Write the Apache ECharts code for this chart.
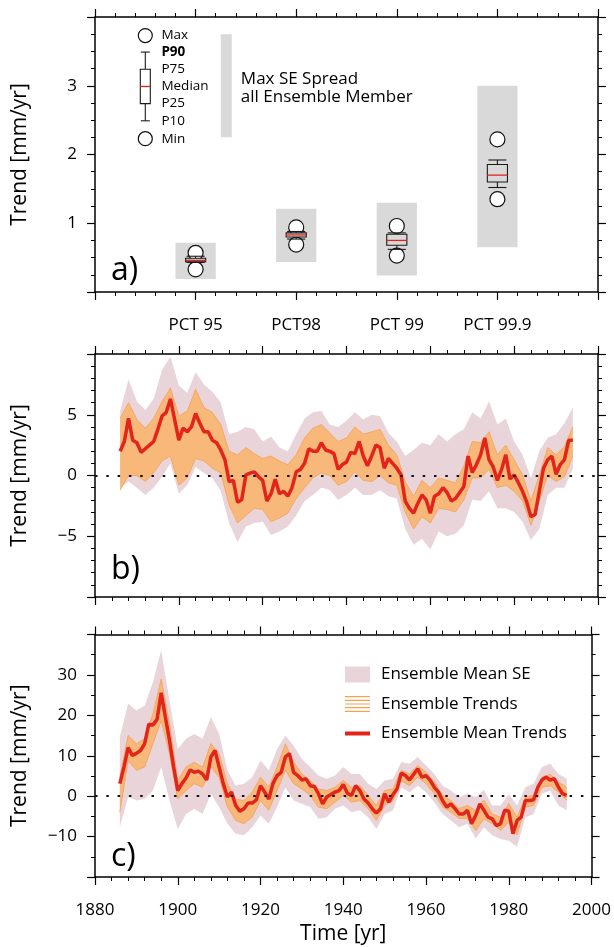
<!DOCTYPE html>
<html>
<head>
<meta charset="utf-8">
<title>Trend ensemble</title>
<script src="https://cdn.jsdelivr.net/npm/echarts@6/dist/echarts.min.js"></script>
<style>
  html, body { margin: 0; padding: 0; background: #fff; }
  #chart { width: 614px; height: 947px; }
</style>
</head>
<body>
<div id="chart"></div>
<script>
const FONT = '"Open Sans", "DejaVu Sans", sans-serif';

// ---- panel a: percentile summaries of trends ----
const pctNames = ['PCT 95', 'PCT98', 'PCT 99', 'PCT 99.9'];
const seSpreadLow  = [0.19, 0.435, 0.24, 0.65];
const seSpreadHigh = [0.715, 1.21, 1.30, 3.00];
const trendMin = [0.33, 0.69, 0.53, 1.35];
const trendP10 = [0.43, 0.77, 0.62, 1.52];
const trendP25 = [0.44, 0.80, 0.68, 1.60];
const trendMed = [0.46, 0.83, 0.75, 1.70];
const trendP75 = [0.49, 0.86, 0.84, 1.855];
const trendP90 = [0.52, 0.88, 0.86, 1.92];
const trendMax = [0.57, 0.94, 0.96, 2.22];
// key drawn inside panel a
const keyLabels = ['Min', 'P10', 'P25', 'Median', 'P75', 'P90', 'Max'];
const keyValues = [2.23, 2.49, 2.74, 2.99, 3.24, 3.49, 3.73];
const keySpread = [2.25, 3.75];

// ---- panels b / c: yearly ensemble mean, 2-yearly envelopes ----
const years = Array.from({length: 109}, (_, i) => 1886 + i);
const bandYears = Array.from({length: 55}, (_, i) => 1886 + 2 * i);

const meanB = [2.0, 2.8, 4.7, 2.9, 2.7, 1.9, 2.2, 2.5, 2.8, 3.8, 4.9, 5.2, 6.3, 4.6, 2.9, 3.9, 3.6, 4.0, 5.1, 4.3,
  3.6, 3.6, 2.9, 2.7, 2.1, 1.3, -0.5, -0.4, -2.2, -2.0, 0.05, 0.2, 0.3, -0.1, -0.4, -2.1, -1.5, -0.3, -1.5, -1.3,
  -1.7, -1.0, 0.3, 0.5, 1.0, 2.2, 2.0, 2.0, 2.7, 2.1, 2.0, 1.8, 0.5, 0.9, 1.1, 1.9, 1.8, 2.8, 1.6, 0.8,
  1.6, 2.5, 2.3, 0.6, 1.4, 1.0, 0.6, 0.05, -2.1, -2.7, -3.1, -2.3, -1.6, -2.0, -3.1, -1.7, -1.5, -1.0, -1.4, -2.1,
  -1.9, -1.4, -0.9, 1.6, 0.25, 0.9, 1.7, 3.1, 1.3, 0.7, -0.4, 0.5, 1.7, -0.3, 0.05, -0.6, -1.3, -2.2, -3.4, -3.2,
  -1.3, 0.6, 1.3, 1.6, 0.1, 0.9, 1.3, 2.9, 2.9];
const seHiB = [5.3, 7.9, 6.1, 5.4, 6.3, 8.7, 9.8, 7.4, 6.8, 8.5, 7.5, 6.9, 6.0, 3.4, 3.6, 4.0, 3.8, 2.8, 3.2, 2.3,
  2.0, 3.4, 4.7, 5.2, 5.3, 4.2, 4.0, 4.5, 5.2, 4.6, 5.0, 4.9, 3.5, 2.8, 1.6, 2.1, 2.7, 2.5, 3.4, 2.8,
  3.4, 3.8, 5.2, 4.7, 6.1, 4.2, 4.7, 2.8, 1.7, -0.2, 2.0, 3.1, 3.4, 4.3, 5.6];
const seLoB = [-1.0, -0.5, -1.0, -1.6, -1.0, -0.1, 1.0, -1.5, -0.8, 0.7, 0.2, -0.2, -1.3, -3.9, -5.5, -4.2, -3.9, -3.8, -4.9, -4.6,
  -4.2, -3.3, -2.1, -1.6, -1.0, -1.2, -2.0, -1.6, -1.0, -1.6, -1.6, -1.2, -1.7, -1.9, -4.4, -5.7, -5.2, -6.1, -4.6, -5.0,
  -4.8, -4.1, -2.0, -2.1, -1.3, -2.7, -2.7, -3.0, -3.8, -5.3, -4.4, -1.6, -1.0, -1.0, 0.6];
const ensHiB = [4.7, 6.0, 4.6, 3.9, 4.7, 6.1, 7.2, 4.9, 5.3, 7.1, 5.6, 5.2, 4.2, 2.0, 1.7, 2.3, 1.8, 1.4, 1.6, 1.2,
  0.9, 1.7, 3.1, 3.9, 4.2, 3.5, 2.8, 3.1, 4.0, 3.4, 3.6, 3.8, 2.5, 1.7, -0.5, -1.7, -0.4, -1.0, -0.2, -0.4,
  -0.6, 0.8, 2.8, 2.7, 3.6, 1.7, 2.5, 1.3, 0.05, -2.1, 0.05, 2.3, 1.7, 2.4, 4.0];
const ensLoB = [-1.2, 0, 0, -0.5, 0.2, 1.2, 1.6, -0.8, -0.2, 1.4, 1.2, 0.6, 0.2, -2.4, -3.9, -3.3, -2.7, -2.8, -3.8, -3.5,
  -3.1, -1.9, -1.0, -0.2, 0.2, 0, -0.8, -0.5, 0.3, -0.4, -0.5, 0, -0.6, -0.8, -3.0, -4.4, -3.4, -3.9, -2.7, -2.8,
  -3.0, -2.0, -0.2, -0.2, 0.5, -1.0, -0.8, -1.3, -2.1, -4.1, -2.1, 0, -0.5, -0.1, 1.6];

const meanC = [3.1, 7.2, 12.0, 10.1, 10.6, 11.3, 13.0, 17.8, 17.6, 19.0, 25.6, 19.6, 13.8, 7.2, 1.4, 3.1, 4.5, 6.5, 5.9, 6.2,
  5.5, 4.0, 9.7, 11.3, 7.2, 3.1, -0.2, 1.0, -2.3, -3.7, -3.1, -1.7, -1.7, -0.9, 2.6, 1.0, -0.7, 3.1, 5.1, 5.9,
  9.7, 10.5, 5.9, 5.1, 4.0, 4.3, 2.6, 2.4, 0.6, -1.9, -0.2, 0.4, 1.0, 1.4, 2.9, 0.7, 0.2, 2.6, 1.4, -0.7,
  -1.7, -3.1, -4.2, -3.1, 0.6, -1.5, 0.4, 1.8, 5.7, 5.1, 4.0, 5.4, 6.8, 4.7, 5.1, 3.9, 2.2, 1.0, -1.1, -2.7,
  -1.9, -3.1, -4.4, -4.4, -3.5, -6.8, -4.8, -1.9, -3.5, -5.2, -5.6, -7.3, -6.8, -3.5, -3.7, -9.3, -6.0, -5.2, -1.1, -1.1,
  -0.9, 2.2, 4.0, 4.7, 4.0, 4.3, 2.2, 0.6, 0.2];
const seHiC = [14.6, 22.9, 21.2, 22.4, 28.2, 36.1, 23.7, 11.7, 14.2, 15.4, 14.2, 19.6, 15.4, 6.4, 2.6, 3.1, 4.7, 8.8, 6.4, 11.7,
  15.0, 12.5, 9.2, 7.2, 5.1, 4.3, 5.1, 7.2, 5.5, 5.5, 3.1, 1.8, 3.9, 4.3, 8.4, 8.0, 9.7, 7.6, 5.5, 2.6,
  1.4, -0.2, 0.6, -0.2, 1.5, -2.3, -2.3, 0.5, -2.3, 2.2, 3.1, 7.2, 8.0, 5.5, 4.3];
const seLoC = [-7.7, -0.2, -1.1, -0.7, 1.4, 7.2, -1.1, -8.1, -4.4, -3.1, -4.4, 0.6, -2.7, -6.8, -9.3, -9.7, -7.7, -4.8, -6.8, -2.7,
  2.2, -1.1, -1.9, -2.7, -5.6, -5.2, -3.1, -2.3, -4.0, -3.5, -5.2, -8.1, -4.4, -3.5, 2.2, 1.0, 2.6, 1.0, -1.5, -4.4,
  -6.0, -7.7, -6.8, -10.5, -7.7, -9.7, -10.6, -11.0, -12.5, -5.2, -4.4, 0.6, 1.4, -2.3, -3.5];
const ensHiC = [4.7, 15.0, 13.0, 14.2, 20.4, 29.0, 17.9, 3.9, 7.2, 8.4, 7.2, 13.0, 10.5, 3.1, -0.7, -1.1, 1.0, 4.7, 2.2, 7.2,
  13.0, 8.5, 5.5, 3.9, 1.8, 1.4, 2.2, 3.9, 2.2, 2.6, 0.2, -2.3, 1.4, 1.8, 6.4, 5.5, 7.6, 5.9, 3.5, 0.2,
  -1.1, -3.1, -2.3, -3.5, -1.0, -4.4, -5.2, -1.8, -5.2, -0.2, 0.2, 4.7, 5.4, 3.5, 2.2];
const ensLoC = [-4.0, 8.8, 6.4, 7.2, 13.0, 18.7, 10.5, -0.7, 1.4, 3.1, 2.2, 7.2, 4.7, -2.7, -6.0, -6.8, -5.2, -1.1, -3.5, 1.4,
  6.4, 3.1, 1.8, 0.2, -2.7, -3.1, -1.5, 0.2, -1.5, -1.1, -3.1, -6.0, -2.3, -1.1, 3.9, 2.6, 4.7, 3.1, 0.6, -2.7,
  -4.0, -5.5, -5.5, -8.5, -5.6, -6.8, -8.5, -6.5, -9.5, -2.7, -2.3, 2.2, 2.6, 1.0, -1.1];

const pink = '#e9d5d9';
const orangeFill = '#f8b879';
const orangeEdge = '#f4a156';
const red = '#e2241b';

const pairs = (xs, ys) => xs.map((x, i) => [x, ys[i]]);
const triples = (xs, lo, hi) => xs.map((x, i) => [x, lo[i], hi[i]]);

// one box glyph: circles for min/max, whiskers P10-P90, box P25-P75, red median
function boxGlyph(api, x, vals, half, r, fill) {
  const cx = api.coord([x, 0])[0];
  const y = vals.map(v => api.coord([x, v])[1]);
  const ink = {stroke: '#1a1a1a', lineWidth: 1.1, fill: 'none'};
  const seg = (x1, y1, x2, y2) => ({type: 'line', shape: {x1, y1, x2, y2}, style: ink});
  const cap = half * 0.9;
  return [
    {type: 'circle', shape: {cx, cy: y[6], r}, style: {fill: '#fff', stroke: '#111', lineWidth: 1.2}},
    {type: 'circle', shape: {cx, cy: y[0], r}, style: {fill: '#fff', stroke: '#111', lineWidth: 1.2}},
    seg(cx, y[1], cx, y[2]),
    seg(cx, y[4], cx, y[5]),
    seg(cx - cap, y[1], cx + cap, y[1]),
    seg(cx - cap, y[5], cx + cap, y[5]),
    {type: 'rect', shape: {x: cx - half, y: y[4], width: 2 * half, height: y[2] - y[4]},
      style: {fill, stroke: '#1a1a1a', lineWidth: 1.1}},
    {type: 'line', shape: {x1: cx - half, y1: y[3], x2: cx + half, y2: y[3]}, style: {stroke: red, lineWidth: 1.3}}
  ];
}

function renderPct(params, api) {
  const x = api.value(0);
  const lo = api.coord([x, api.value(1)]);
  const hi = api.coord([x, api.value(2)]);
  const w = api.size([0.2, 0])[0];
  const vals = [3, 4, 5, 6, 7, 8, 9].map(d => api.value(d));
  return {
    type: 'group',
    children: [{type: 'rect', shape: {x: lo[0] - w, y: hi[1], width: 2 * w, height: lo[1] - hi[1]}, style: {fill: '#d9d9d9'}}]
      .concat(boxGlyph(api, x, vals, api.size([0.1, 0])[0], 7.5, '#d9d9d9'))
  };
}

function renderKey(params, api) {
  const x = api.value(0);
  const vals = keyLabels.map((_, i) => api.value(i + 1));
  const children = boxGlyph(api, x, vals, 5, 7, '#fff');
  keyLabels.forEach((t, i) => {
    const p = api.coord([0.66, vals[i]]);
    children.push({type: 'text', x: p[0], y: p[1], style: {
      text: t, fill: '#000', font: (t === 'P90' ? 'bold ' : '') + '13.5px ' + FONT, align: 'left', verticalAlign: 'middle'}});
  });
  const top = api.coord([1.305, keySpread[1]]);
  const bot = api.coord([1.305, keySpread[0]]);
  children.push({type: 'rect', shape: {x: top[0] - 5.5, y: top[1], width: 11, height: bot[1] - top[1]}, style: {fill: '#d9d9d9'}});
  const tp = api.coord([1.45, 2.97]);
  children.push({type: 'text', x: tp[0], y: tp[1], style: {
    text: 'Max SE Spread\nall Ensemble Member', fill: '#000', font: '17px ' + FONT, lineHeight: 18,
    align: 'left', verticalAlign: 'middle'}});
  return {type: 'group', children};
}

// whole envelope drawn once as a polygon through the axis scales
function bandRenderer(fill, edge) {
  return function (params, api) {
    if (params.dataIndex !== 0) return null;
    const upper = [], lower = [];
    for (let i = 0; i < params.dataInsideLength; i++) {
      const x = api.value(0, i);
      lower.push(api.coord([x, api.value(1, i)]));
      upper.push(api.coord([x, api.value(2, i)]));
    }
    const children = [{type: 'polygon', shape: {points: upper.concat(lower.slice().reverse())}, style: {fill}}];
    if (edge) {
      children.push({type: 'polyline', shape: {points: upper}, style: {stroke: edge, lineWidth: 0.8, fill: 'none'}});
      children.push({type: 'polyline', shape: {points: lower}, style: {stroke: edge, lineWidth: 0.8, fill: 'none'}});
    }
    return {type: 'group', children};
  };
}

function axis(extra) {
  return Object.assign({
    type: 'value',
    axisLine: {show: true, onZero: false, lineStyle: {color: '#000', width: 1.5}},
    axisTick: {show: true, length: 8, lineStyle: {color: '#000', width: 1.2}},
    minorTick: {show: true, length: 4, lineStyle: {color: '#000', width: 1}},
    splitLine: {show: false},
    axisLabel: {show: false}
  }, extra);
}
const tickText = {color: '#000', fontFamily: FONT, fontSize: 17};
const minus = v => String(v).replace('-', '\u2212');
const nameText = {color: '#000', fontFamily: FONT, fontSize: 21};

const timeAxis = {min: 1880, max: 2000, interval: 20, minorTick: {show: true, splitNumber: 5, length: 4, lineStyle: {color: '#000', width: 1}}};

const chart = echarts.init(document.getElementById('chart'));
chart.setOption({
  animation: false,
  backgroundColor: '#fff',
  grid: [
    {left: 95, right: 16, top: 17, height: 275},
    {left: 95, right: 16, top: 354, height: 243},
    {left: 95, right: 16, top: 634.5, height: 242.5}
  ],
  xAxis: [
    axis({gridIndex: 0, position: 'bottom', min: 0, max: 5, interval: 1,
      minorTick: {show: true, splitNumber: 5, length: 4, lineStyle: {color: '#000', width: 1}},
      axisLabel: {show: true, margin: 25, ...tickText, formatter: v => pctNames[v - 1] || ''}}),
    axis({gridIndex: 0, position: 'top', min: 0, max: 5, interval: 1,
      minorTick: {show: true, splitNumber: 5, length: 4, lineStyle: {color: '#000', width: 1}}}),
    axis(Object.assign({gridIndex: 1, position: 'bottom'}, timeAxis)),
    axis(Object.assign({gridIndex: 1, position: 'top'}, timeAxis)),
    axis(Object.assign({gridIndex: 2, position: 'bottom', name: 'Time [yr]', nameLocation: 'middle', nameGap: 47,
      nameTextStyle: nameText, axisLabel: {show: true, margin: 25, ...tickText, formatter: v => String(v)}}, timeAxis)),
    axis(Object.assign({gridIndex: 2, position: 'top'}, timeAxis))
  ],
  yAxis: [
    axis({gridIndex: 0, position: 'left', min: 0, max: 4, interval: 1,
      minorTick: {show: true, splitNumber: 4, length: 4, lineStyle: {color: '#000', width: 1}},
      name: 'Trend [mm/yr]', nameLocation: 'middle', nameGap: 64, nameTextStyle: nameText,
      axisLabel: {show: true, margin: 18, showMinLabel: false, showMaxLabel: false, ...tickText}}),
    axis({gridIndex: 0, position: 'right', min: 0, max: 4, interval: 1,
      minorTick: {show: true, splitNumber: 4, length: 4, lineStyle: {color: '#000', width: 1}}}),
    axis({gridIndex: 1, position: 'left', min: -10, max: 10, interval: 5,
      minorTick: {show: true, splitNumber: 5, length: 4, lineStyle: {color: '#000', width: 1}},
      name: 'Trend [mm/yr]', nameLocation: 'middle', nameGap: 64, nameTextStyle: nameText,
      axisLabel: {show: true, margin: 18, showMinLabel: false, showMaxLabel: false, formatter: minus, ...tickText}}),
    axis({gridIndex: 1, position: 'right', min: -10, max: 10, interval: 5,
      minorTick: {show: true, splitNumber: 5, length: 4, lineStyle: {color: '#000', width: 1}}}),
    axis({gridIndex: 2, position: 'left', min: -20, max: 40, interval: 10,
      minorTick: {show: true, splitNumber: 2, length: 4, lineStyle: {color: '#000', width: 1}},
      name: 'Trend [mm/yr]', nameLocation: 'middle', nameGap: 64, nameTextStyle: nameText,
      axisLabel: {show: true, margin: 18, showMinLabel: false, showMaxLabel: false, formatter: minus, ...tickText}}),
    axis({gridIndex: 2, position: 'right', min: -20, max: 40, interval: 10,
      minorTick: {show: true, splitNumber: 2, length: 4, lineStyle: {color: '#000', width: 1}}})
  ],
  legend: {
    orient: 'vertical', left: 345, top: 666, padding: 0,
    itemWidth: 25, itemHeight: 16, itemGap: 12.5, selectedMode: false,
    textStyle: {color: '#000', fontFamily: FONT, fontSize: 17, padding: [0, 0, 0, 6]},
    data: [
      {name: 'Ensemble Mean SE', icon: 'rect', itemStyle: {color: pink}},
      {name: 'Ensemble Trends', icon: 'path://M0,0H25V1.2H0Z M0,3.7H25V4.9H0Z M0,7.4H25V8.6H0Z M0,11.1H25V12.3H0Z M0,14.8H25V16H0Z',
        itemStyle: {color: orangeEdge}},
      {name: 'Ensemble Mean Trends', icon: 'path://M0,0H25V4H0Z', itemStyle: {color: red}}
    ]
  },
  graphic: [
    {type: 'text', x: 111, y: 271, style: {text: 'a)', font: '32px ' + FONT, fill: '#000', verticalAlign: 'middle'}},
    {type: 'text', x: 111, y: 570, style: {text: 'b)', font: '32px ' + FONT, fill: '#000', verticalAlign: 'middle'}},
    {type: 'text', x: 111, y: 857, style: {text: 'c)', font: '32px ' + FONT, fill: '#000', verticalAlign: 'middle'}}
  ],
  series: [
    {type: 'custom', name: 'pct', xAxisIndex: 0, yAxisIndex: 0, silent: true,
      data: pctNames.map((n, i) => [i + 1, seSpreadLow[i], seSpreadHigh[i], trendMin[i], trendP10[i], trendP25[i],
        trendMed[i], trendP75[i], trendP90[i], trendMax[i]]),
      encode: {x: 0, y: [1, 2]}, renderItem: renderPct},
    {type: 'custom', name: 'key', xAxisIndex: 0, yAxisIndex: 0, silent: true,
      data: [[0.5].concat(keyValues)], encode: {x: 0, y: [1, 7]}, renderItem: renderKey},

    {type: 'custom', name: 'SE b', xAxisIndex: 2, yAxisIndex: 2, silent: true, itemStyle: {color: pink},
      data: triples(bandYears, seLoB, seHiB), encode: {x: 0, y: [1, 2]}, renderItem: bandRenderer(pink)},
    {type: 'custom', name: 'Trends b', xAxisIndex: 2, yAxisIndex: 2, silent: true, itemStyle: {color: orangeFill},
      data: triples(bandYears, ensLoB, ensHiB), encode: {x: 0, y: [1, 2]}, renderItem: bandRenderer(orangeFill, orangeEdge)},
    {type: 'line', name: 'Mean b', xAxisIndex: 2, yAxisIndex: 2, silent: true, symbol: 'none',
      data: pairs(years, meanB), lineStyle: {color: red, width: 3.5}, itemStyle: {color: red},
      markLine: {silent: true, symbol: 'none', label: {show: false}, data: [{yAxis: 0}],
        lineStyle: {color: '#111', type: [2.5, 8.8], width: 2}}},

    {type: 'custom', name: 'Ensemble Mean SE', xAxisIndex: 4, yAxisIndex: 4, silent: true, itemStyle: {color: pink},
      data: triples(bandYears, seLoC, seHiC), encode: {x: 0, y: [1, 2]}, renderItem: bandRenderer(pink)},
    {type: 'custom', name: 'Ensemble Trends', xAxisIndex: 4, yAxisIndex: 4, silent: true, itemStyle: {color: orangeEdge},
      data: triples(bandYears, ensLoC, ensHiC), encode: {x: 0, y: [1, 2]}, renderItem: bandRenderer(orangeFill, orangeEdge)},
    {type: 'line', name: 'Ensemble Mean Trends', xAxisIndex: 4, yAxisIndex: 4, silent: true, symbol: 'none',
      data: pairs(years, meanC), lineStyle: {color: red, width: 3.5}, itemStyle: {color: red},
      markLine: {silent: true, symbol: 'none', label: {show: false}, data: [{yAxis: 0}],
        lineStyle: {color: '#111', type: [2.5, 8.8], width: 2}}}
  ]
});
</script>
</body>
</html>
